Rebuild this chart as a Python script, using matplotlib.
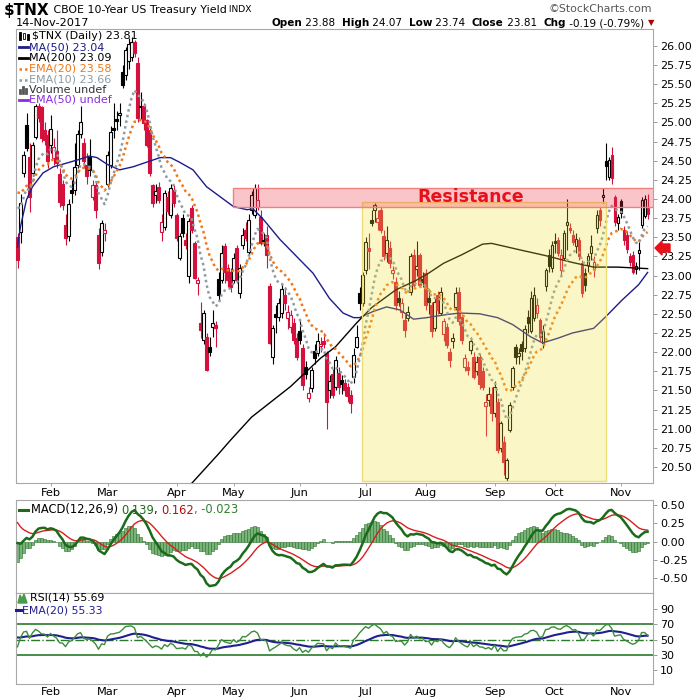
import matplotlib
matplotlib.use('Agg')
import matplotlib.pyplot as plt
import matplotlib.patches as mpatches
from matplotlib.lines import Line2D
import numpy as np
import pandas as pd

plt.rcParams['font.family'] = ['DejaVu Sans']

# trading days shown (CBOE holidays removed)
holidays = ['2017-02-20', '2017-04-14', '2017-05-29', '2017-07-04', '2017-09-04']
dates = pd.bdate_range('2017-01-17', '2017-11-14')
dates = dates[~dates.isin(pd.to_datetime(holidays))]

opens = [23.50, 23.57, 24.34, 24.97, 24.55, 24.34, 24.81, 25.22, 25.20, 24.90,
         24.84, 24.71, 24.53, 24.62, 24.33, 24.20, 23.66, 23.51, 24.12, 24.12,
         24.45, 24.85, 24.73, 24.45, 24.55, 24.03, 24.18, 23.53, 23.31, 23.55,
         24.20, 24.45, 24.93, 25.05, 25.10, 25.66, 25.62, 25.80, 25.85, 26.05,
         25.78, 25.20, 25.21, 25.03, 24.90, 24.18, 24.05, 24.16, 23.57, 23.64,
         24.02, 23.79, 24.12, 23.79, 23.23, 23.75, 23.47, 22.99, 23.88, 23.42,
         22.90, 22.38, 22.16, 22.20, 22.07, 22.33, 22.36, 22.95, 22.94, 23.38,
         23.10, 23.05, 22.94, 23.36, 22.77, 23.40, 23.60, 23.31, 23.86, 23.79,
         23.90, 23.77, 23.47, 23.53, 22.86, 21.94, 22.50, 22.46, 22.51, 22.75,
         22.44, 22.33, 22.38, 22.18, 22.27, 22.05, 21.81, 21.40, 21.53, 22.01,
         21.99, 22.08, 22.15, 21.99, 21.51, 21.72, 21.55, 21.73, 21.64, 21.60,
         21.55, 21.44, 21.68, 22.07, 22.77, 22.64, 23.07, 23.36, 23.73, 23.86,
         23.70, 23.86, 23.51, 23.29, 23.36, 23.03, 22.92, 22.70, 22.53, 22.42,
         22.45, 22.79, 23.27, 23.08, 23.27, 22.96, 23.03, 22.70, 22.62, 22.31,
         22.75, 22.51, 22.23, 22.33, 22.00, 22.15, 22.59, 22.79, 22.46, 21.81,
         21.80, 22.03, 21.94, 21.75, 21.94, 21.75, 21.30, 21.38, 21.45, 21.20,
         21.35, 20.75, 20.83, 20.35, 20.98, 21.55, 22.07, 21.95, 22.10, 22.05,
         22.46, 22.27, 22.45, 22.51, 22.42, 22.12, 22.86, 23.27, 23.10, 23.45,
         23.46, 23.07, 23.23, 23.66, 23.62, 23.53, 23.38, 23.46, 23.16, 23.03,
         23.14, 23.29, 23.08, 23.62, 23.86, 24.03, 24.49, 24.29, 24.58, 24.03,
         23.68, 23.97, 23.60, 23.53, 23.25, 23.27, 23.08, 23.29, 23.66, 23.78,
         23.88]
highs = [23.55, 24.07, 24.62, 25.12, 24.73, 24.75, 25.24, 25.25, 25.22, 25.00,
         24.90, 25.10, 24.80, 24.90, 24.40, 24.25, 23.80, 24.00, 24.25, 24.73,
         24.90, 25.22, 24.80, 24.60, 24.78, 24.25, 24.22, 23.62, 23.72, 23.68,
         24.62, 24.95, 25.25, 25.15, 25.25, 25.75, 25.98, 26.10, 26.12, 26.08,
         25.85, 25.40, 25.25, 25.05, 24.95, 24.20, 24.20, 24.22, 23.80, 24.12,
         24.10, 24.20, 24.18, 23.82, 23.55, 23.80, 23.55, 23.75, 23.92, 23.45,
         22.98, 22.65, 22.55, 22.25, 22.20, 22.55, 22.40, 23.05, 23.40, 23.42,
         23.15, 23.10, 23.30, 23.40, 23.15, 23.62, 23.70, 23.80, 24.10, 24.20,
         24.20, 23.85, 23.55, 23.65, 22.90, 22.35, 22.62, 22.70, 22.90, 22.85,
         22.62, 22.55, 22.45, 22.25, 22.40, 22.10, 21.88, 21.55, 21.80, 22.10,
         22.25, 22.20, 22.25, 22.02, 21.70, 21.78, 21.95, 21.80, 21.70, 21.65,
         21.60, 21.50, 22.05, 22.35, 22.85, 23.05, 23.50, 23.55, 23.85, 23.95,
         23.85, 23.90, 23.60, 23.65, 23.45, 23.12, 22.98, 22.80, 22.70, 22.50,
         22.60, 23.30, 23.35, 23.45, 23.30, 23.05, 23.08, 22.82, 22.65, 22.70,
         22.80, 22.85, 22.45, 22.38, 22.05, 22.25, 22.85, 22.85, 22.50, 21.98,
         21.88, 22.20, 22.00, 21.95, 21.98, 21.80, 21.45, 21.55, 21.55, 21.62,
         21.40, 21.10, 20.90, 20.62, 21.35, 21.82, 22.10, 22.05, 22.15, 22.35,
         22.55, 22.80, 22.85, 22.70, 22.45, 22.35, 23.10, 23.35, 23.45, 23.55,
         23.50, 23.35, 23.60, 24.00, 23.68, 23.60, 23.55, 23.50, 23.20, 23.10,
         23.30, 23.53, 23.25, 23.85, 23.90, 24.14, 24.73, 24.55, 24.68, 24.05,
         23.80, 24.00, 23.65, 23.58, 23.30, 23.32, 23.18, 23.44, 24.02, 24.05,
         24.07]
lows = [23.10, 23.42, 24.29, 24.62, 23.83, 24.30, 24.78, 25.00, 24.75, 24.70,
        24.40, 24.60, 24.45, 24.40, 23.90, 23.85, 23.40, 23.45, 23.95, 24.05,
        24.40, 24.80, 24.40, 24.20, 24.30, 23.98, 23.75, 23.08, 23.25, 23.45,
        24.15, 24.40, 24.80, 24.90, 24.95, 25.45, 25.55, 25.70, 25.80, 25.85,
        25.00, 25.05, 24.90, 24.68, 24.30, 23.90, 23.95, 23.95, 23.45, 23.60,
        23.80, 23.75, 23.90, 23.45, 23.20, 23.50, 23.35, 22.90, 23.55, 22.95,
        22.75, 22.18, 22.10, 21.75, 21.95, 22.20, 22.07, 22.68, 22.90, 22.90,
        22.85, 22.78, 22.90, 22.90, 22.70, 23.35, 23.45, 23.28, 23.80, 23.75,
        23.85, 23.40, 23.38, 23.10, 22.10, 21.85, 22.25, 22.40, 22.45, 22.55,
        22.30, 22.25, 22.10, 21.90, 22.10, 21.50, 21.65, 21.35, 21.48, 21.85,
        21.95, 22.00, 22.05, 21.00, 21.40, 21.40, 21.50, 21.45, 21.45, 21.42,
        21.35, 21.20, 21.60, 22.05, 22.55, 22.60, 23.02, 23.08, 23.65, 23.70,
        23.60, 23.55, 23.20, 23.18, 23.10, 22.95, 22.55, 22.60, 22.45, 22.20,
        22.40, 22.75, 22.85, 23.00, 22.85, 22.85, 22.55, 22.50, 22.20, 22.28,
        22.50, 22.48, 22.15, 22.05, 21.80, 22.05, 22.55, 22.35, 22.10, 21.75,
        21.70, 21.98, 21.65, 21.70, 21.52, 21.50, 20.90, 21.30, 21.10, 21.15,
        20.68, 20.70, 20.40, 20.32, 20.95, 21.50, 21.85, 21.85, 21.90, 22.00,
        22.25, 22.25, 22.40, 22.45, 22.15, 22.05, 22.80, 23.05, 23.05, 23.30,
        23.25, 23.00, 23.20, 23.33, 23.55, 23.40, 23.30, 23.20, 22.72, 22.80,
        23.05, 23.20, 22.98, 23.55, 23.65, 23.95, 24.25, 24.25, 24.20, 23.65,
        23.60, 23.75, 23.40, 23.30, 23.12, 23.02, 23.02, 23.07, 23.62, 23.75,
        23.74]
closes = [23.20, 23.95, 24.57, 24.66, 24.03, 24.70, 25.22, 25.06, 24.79, 24.77,
          24.49, 24.92, 24.68, 24.47, 23.96, 23.92, 23.49, 23.94, 24.08, 24.42,
          24.85, 25.01, 24.49, 24.30, 24.38, 24.18, 23.86, 23.16, 23.68, 23.60,
          24.57, 24.88, 24.90, 25.02, 25.12, 25.49, 25.95, 26.02, 26.05, 25.90,
          25.06, 25.22, 24.99, 24.71, 24.34, 23.95, 24.10, 23.99, 23.70, 24.08,
          23.84, 24.14, 23.95, 23.49, 23.52, 23.55, 23.40, 23.71, 23.60, 22.97,
          22.94, 22.29, 22.51, 21.77, 22.00, 22.38, 22.32, 22.75, 23.30, 23.05,
          22.94, 22.85, 23.23, 22.94, 23.10, 23.53, 23.49, 23.73, 24.05, 24.14,
          23.99, 23.42, 23.44, 23.27, 22.12, 22.31, 22.46, 22.64, 22.83, 22.64,
          22.53, 22.49, 22.16, 21.94, 22.16, 21.57, 21.72, 21.46, 21.77, 21.92,
          22.14, 22.11, 22.10, 21.35, 21.62, 21.44, 21.90, 21.55, 21.58, 21.50,
          21.42, 21.33, 21.96, 22.20, 22.64, 23.01, 23.44, 23.32, 23.69, 23.92,
          23.75, 23.60, 23.25, 23.47, 23.16, 23.07, 22.62, 22.66, 22.64, 22.29,
          22.53, 23.25, 22.88, 23.12, 22.88, 22.92, 22.62, 22.65, 22.27, 22.66,
          22.55, 22.79, 22.40, 22.09, 21.90, 22.18, 22.77, 22.40, 22.16, 21.92,
          21.77, 22.14, 21.68, 21.87, 21.58, 21.55, 21.35, 21.45, 21.20, 21.55,
          20.72, 21.07, 20.57, 20.59, 21.31, 21.79, 21.94, 21.99, 22.02, 22.30,
          22.38, 22.70, 22.75, 22.62, 22.20, 22.27, 23.07, 23.12, 23.40, 23.42,
          23.29, 23.27, 23.55, 23.70, 23.60, 23.44, 23.48, 23.25, 22.77, 22.88,
          23.25, 23.38, 23.18, 23.79, 23.73, 24.05, 24.43, 24.51, 24.27, 23.70,
          23.77, 23.82, 23.47, 23.34, 23.18, 23.05, 23.12, 23.33, 23.99, 24.00,
          23.81]

# values just before the first visible day
prev_close = 23.90
ema10_seed, ema20_seed = 24.03, 24.18
ema12_seed, ema26_seed, signal_seed = 24.27, 24.20, 0.33
gain_seed, loss_seed = 0.10, 0.092
rsi_ema_seed = 54.0

# moving averages (day index, value)
ma50_idx = [0, 1, 3, 5, 8.5, 12, 16.5, 20, 24, 26.5, 30, 34, 38.5, 43, 47.5, 51, 54,
            58.5, 63, 67.5, 72, 76.5, 78.5, 82, 87.5, 93, 98.5, 104, 108.5, 112, 114,
            118.5, 123, 127.5, 132, 136.5, 143, 147.5, 154, 160, 165, 171, 175, 180,
            185, 192, 196, 201.5, 207, 210]
ma50_val = [23.37, 23.64, 23.99, 24.16, 24.34, 24.42, 24.47, 24.51, 24.56, 24.54,
            24.45, 24.38, 24.42, 24.48, 24.54, 24.54, 24.48, 24.38, 24.16, 24.03,
            23.90, 23.86, 23.87, 23.73, 23.47, 23.25, 23.03, 22.70, 22.51, 22.45,
            22.45, 22.53, 22.59, 22.55, 22.43, 22.45, 22.49, 22.51, 22.50, 22.45,
            22.36, 22.20, 22.12, 22.18, 22.25, 22.31, 22.46, 22.68, 22.88, 23.04]
ma200_idx = [57, 67, 71, 78, 91, 101, 106, 113, 118, 126, 133, 137, 142, 148, 155,
             158, 168, 176, 185, 192, 200, 210]
ma200_val = [20.24, 20.67, 20.85, 21.15, 21.55, 21.92, 22.07, 22.38, 22.58, 22.81,
             22.94, 23.03, 23.16, 23.27, 23.41, 23.42, 23.33, 23.26, 23.17, 23.11,
             23.11, 23.09]

resist_lo, resist_hi, resist_from = 23.90, 24.146, 71.8
box_lo, box_hi, box_from, box_to = 20.32, 23.96, 114.8, 196.1

RED = '#d4103c'
W, H = 700, 700


def ema(vals, n, seed):
    k = 2.0 / (n + 1)
    out, e = [], seed
    for v in vals:
        e = e + k * (v - e)
        out.append(e)
    return np.array(out)


o, h, l, c = (np.array(v) for v in (opens, highs, lows, closes))
x = np.arange(len(c))
pc = np.r_[prev_close, c[:-1]]

ema10 = ema(c, 10, ema10_seed)
ema20 = ema(c, 20, ema20_seed)
macd = ema(c, 12, ema12_seed) - ema(c, 26, ema26_seed)
signal = ema(macd, 9, signal_seed)
hist = macd - signal

chg = c - pc
ag, al, rsi = gain_seed, loss_seed, []
for d in chg:
    ag = (ag * 13 + max(d, 0)) / 14
    al = (al * 13 + max(-d, 0)) / 14
    rsi.append(100 - 100 / (1 + ag / al))
rsi = np.array(rsi)
rsi_ema = ema(rsi, 20, rsi_ema_seed)

fig = plt.figure(figsize=(7, 7), dpi=100)
left, width = 16 / W, 637 / W
ax = fig.add_axes([left, 1 - 483 / H, width, 454 / H])
axm = fig.add_axes([left, 1 - 593 / H, width, 93 / H])
axr = fig.add_axes([left, 1 - 684 / H, width, 91 / H])

# candles
col = np.where(c >= pc, 'black', RED)
face = np.where(c >= o, 'white', col)
ax.vlines(x, l, h, colors=col, lw=0.8, zorder=2)
ax.bar(x, np.maximum(np.abs(c - o), 0.012), bottom=np.minimum(o, c), width=0.72,
       color=face, edgecolor=col, linewidth=0.8, zorder=3)

ax.plot(ma50_idx, ma50_val, color='#1c1c8a', lw=1.0, zorder=4)
ax.plot(ma200_idx, ma200_val, color='black', lw=1.0, zorder=4)
ax.plot(x, ema20, color='#f07818', lw=1.8, ls=(0, (1, 1.3)), zorder=4)
ax.plot(x, ema10, color='#8d9ba2', lw=1.8, ls=(0, (1, 1.3)), zorder=4)

ax.add_patch(mpatches.Rectangle((box_from, box_lo), box_to - box_from, box_hi - box_lo,
                                facecolor='#f0e030', alpha=0.28, edgecolor='none', zorder=6))
ax.add_patch(mpatches.Rectangle((box_from, box_lo), box_to - box_from, box_hi - box_lo,
                                fill=False, edgecolor='#eedd77', lw=1, zorder=6))
ax.add_patch(mpatches.Rectangle((resist_from, resist_lo), 215 - resist_from, resist_hi - resist_lo,
                                facecolor='#f03040', alpha=0.28, edgecolor='none', zorder=6))
ax.add_patch(mpatches.Rectangle((resist_from, resist_lo), 215 - resist_from, resist_hi - resist_lo,
                                fill=False, edgecolor='#f08080', lw=1, zorder=6))
ax.text(151, (resist_lo + resist_hi) / 2, 'Resistance', color='#e8101a', fontsize=12.5,
        fontweight='bold', ha='center', va='center', zorder=7)

# macd
axm.bar(x, hist, width=0.8, color='#78b478', edgecolor='#2f6f2f', linewidth=0.4, zorder=2)
axm.plot(x, signal, color='#d42020', lw=1.0, zorder=3)
axm.plot(x, macd, color='#1b6b1b', lw=1.8, zorder=4)

# rsi
for lev, ls in ((70, '-'), (30, '-'), (50, '-.')):
    axr.axhline(lev, color='#2a7a2a', lw=1.2 if ls == '-' else 1.0, ls=ls, zorder=1)
axr.plot(x, rsi, color='#3c8c3c', lw=1.0, zorder=3)
axr.plot(x, rsi_ema, color='#1f1f8f', lw=1.5, zorder=2)

month_pos = [i for i in range(1, len(dates)) if dates[i].month != dates[i - 1].month]
month_lab = [dates[i].strftime('%b') for i in month_pos]

for a in (ax, axm, axr):
    a.set_xlim(-0.5, 211.8)
    a.yaxis.tick_right()
    a.tick_params(axis='y', length=3, width=0.6, color='#888888', labelsize=8, pad=2)
    a.set_xticks(month_pos)
    a.tick_params(axis='x', length=2, width=0.6, color='#999999', labelsize=8.2, pad=1.5)
    for s in a.spines.values():
        s.set_color('#a8a8a8')
        s.set_linewidth(0.8)
ax.set_xticklabels(month_lab)
axr.set_xticklabels(month_lab)
axr.tick_params(axis='x', length=1, pad=1)
axm.set_xticklabels([])

ax.set_ylim(20.29, 26.22)
yt = np.arange(20.5, 26.01, 0.25)
ax.set_yticks(yt)
ax.set_yticklabels(['%.2f' % v for v in yt])
axm.set_ylim(-0.707, 0.570)
axm.set_yticks([-0.5, -0.25, 0, 0.25, 0.5])
axm.set_yticklabels(['-0.50', '-0.25', '0.00', '0.25', '0.50'])
axr.set_ylim(-7.5, 110.4)
axr.set_yticks([10, 30, 50, 70, 90])
axr.set_yticklabels(['10', '30', '50', '70', '90'])

renderer = fig.canvas.get_renderer()


def put_row(x0, y0, pieces, ha='left'):
    texts, xs, cur = [], [], x0
    for s, kw in pieces:
        t = fig.text(cur / W, 1 - y0 / H, s, va='center', ha='left', **kw)
        w = t.get_window_extent(renderer).width
        texts.append(t)
        xs.append(cur)
        cur += w
    if ha == 'right':
        shift = cur - x0
        for t, xx in zip(texts, xs):
            t.set_x((xx - shift) / W)
    return cur


put_row(4, 10, [('$TNX', dict(fontsize=11, fontweight='bold')),
                (' CBOE 10-Year US Treasury Yield', dict(fontsize=7.9)),
                (' INDX', dict(fontsize=6.6))])
fig.text(16 / W, 1 - 23 / H, '14-Nov-2017', fontsize=8.2, va='center')
fig.text(652 / W, 1 - 9 / H, '\u00a9StockCharts.com', fontsize=7.8, color='#555555',
         ha='right', va='center')
b = dict(fontsize=7.5, fontweight='bold')
n = dict(fontsize=7.5)
put_row(644, 23, [('Open', b), (' 23.88  ', n), ('High', b), (' 24.07  ', n), ('Low', b),
                  (' 23.74  ', n), ('Close', b), (' 23.81  ', n), ('Chg', b),
                  (' -0.19 (-0.79%)', n)], ha='right')
fig.text(651 / W, 1 - 23 / H, '\u25bc', fontsize=6, color='#b00000', ha='center', va='center')

# legend rows in price panel
leg = [('$TNX (Daily) 23.81', 'black', None),
       ('MA(50) 23.04', '#1c1c8a', '-'),
       ('MA(200) 23.09', 'black', '-'),
       ('EMA(20) 23.58', '#f07818', ':'),
       ('EMA(10) 23.66', '#8d9ba2', ':'),
       ('Volume undef', '#333333', None),
       ('EMA(50) undef', '#8a2be2', '-')]
rows_y = [36, 47, 57.5, 68.5, 79.5, 90, 100]
for k, ((label, colr, sty), yy) in enumerate(zip(leg, rows_y)):
    if sty is not None:
        fig.add_artist(Line2D([19 / W, 28 / W], [1 - yy / H] * 2, color=colr,
                              lw=2 if sty == '-' else 1.8,
                              ls='-' if sty == '-' else (0, (1, 1.2))))
    fig.text((32 if k == 0 else 29) / W, 1 - yy / H, label, color=colr, fontsize=8, va='center')
# small icons: candles for the price row, bars for the volume row
for dx, y1, y2, fill in ((19, 32, 40, 'black'), (23, 33, 39, 'white'), (27, 34, 40, 'black')):
    fig.add_artist(mpatches.Rectangle((dx / W, 1 - y2 / H), 2 / W, (y2 - y1) / H, facecolor=fill,
                                      edgecolor='black', lw=0.6))
for dx, hh in ((19, 5), (22, 8), (25, 6)):
    fig.add_artist(mpatches.Rectangle((dx / W, 1 - 94 / H), 2 / W, hh / H, facecolor='#555555',
                                      edgecolor='#333333', lw=0.4))

# red arrow
fig.add_artist(mpatches.Polygon([(655 / W, 1 - 248 / H), (662 / W, 1 - 241 / H), (662 / W, 1 - 244 / H),
                                 (670 / W, 1 - 244 / H), (670 / W, 1 - 252 / H), (662 / W, 1 - 252 / H),
                                 (662 / W, 1 - 255 / H)], closed=True, color='#e8101a'))

# macd label
fig.add_artist(Line2D([19 / W, 28 / W], [1 - 510 / H] * 2, color='#1b6b1b', lw=2.2))
put_row(31, 510, [('MACD(12,26,9) ', dict(fontsize=8.3)), ('0.139', dict(fontsize=8.3, color='#1b6b1b')),
                  (', ', dict(fontsize=8.3)), ('0.162', dict(fontsize=8.3, color='#b01010')),
                  (', -0.023', dict(fontsize=8.3, color='#2f7f2f'))])

# rsi labels
fig.add_artist(mpatches.Polygon([(18 / W, 1 - 603 / H), (20 / W, 1 - 595 / H), (22 / W, 1 - 599 / H),
                                 (24 / W, 1 - 594 / H), (27 / W, 1 - 603 / H)], closed=True,
                                color='#4c9a4c'))
fig.text(30 / W, 1 - 598 / H, 'RSI(14) 55.69', fontsize=7.8, va='center')
fig.add_artist(Line2D([16 / W, 22 / W], [1 - 610 / H] * 2, color='#1f1f8f', lw=2.2))
fig.text(22 / W, 1 - 610.5 / H, 'EMA(20) 55.33', fontsize=7.8, color='#1f1f8f', va='center')

fig.savefig('out.png', dpi=100)
